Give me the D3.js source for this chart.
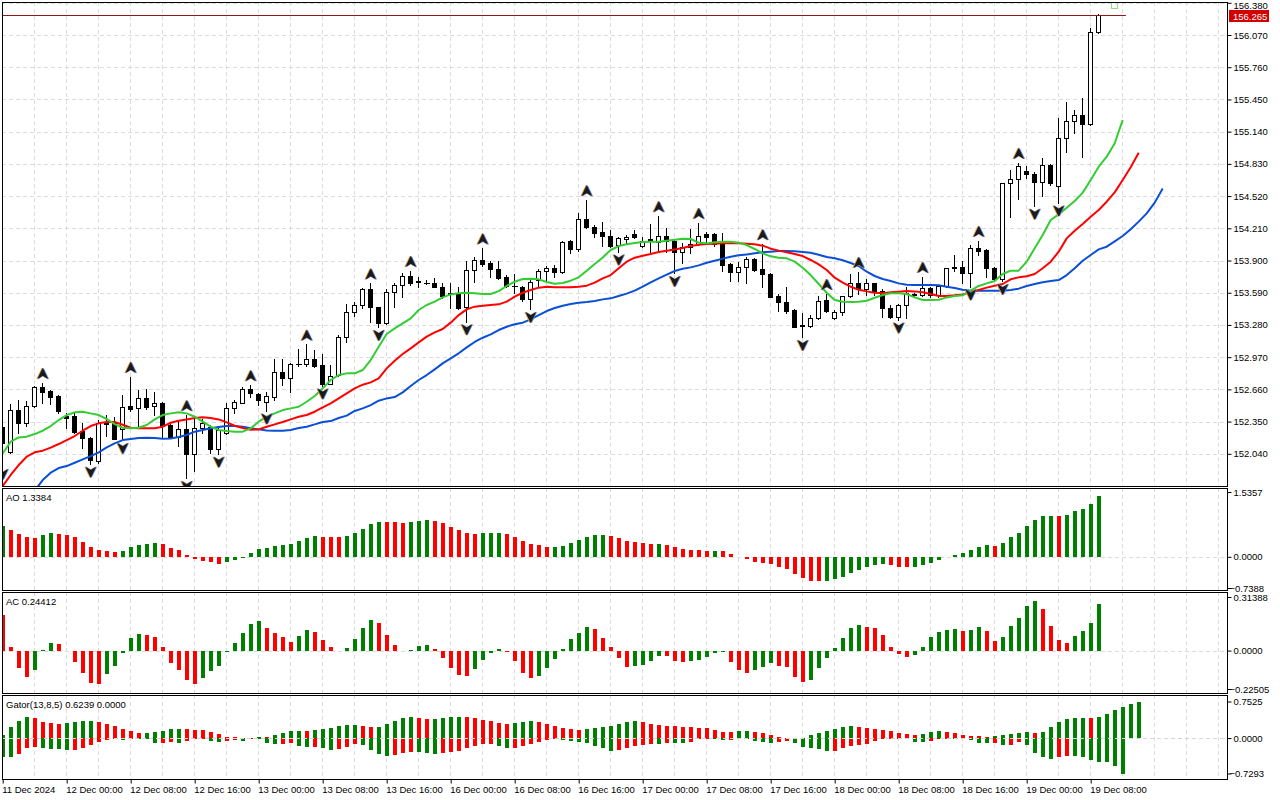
<!DOCTYPE html>
<html>
<head>
<meta charset="utf-8">
<script src="https://cdn.jsdelivr.net/npm/d3@7"></script>
<style>
  body { margin: 0; background: #fff; }
  svg { display: block; }
  text { font-family: "Liberation Sans", Arial, sans-serif; font-size: 9.5px; fill: #000; }
</style>
</head>
<body>
<svg id="chart" width="1280" height="800"></svg>
<script>
// ---- USDJPY H1, 11 Dec 16:00 .. 19 Dec 09:00 (one value per bar) ----
const open = [
  152.295, 152.060, 152.461, 152.339, 152.500, 152.683, 152.644, 152.599, 152.404, 152.407,
  152.263, 152.189, 151.974, 152.349, 152.349, 152.275, 152.500, 152.477, 152.577, 152.503,
  152.526, 152.320, 152.205, 152.275, 152.038, 152.285, 152.301, 152.083, 152.237, 152.484,
  152.532, 152.664, 152.615, 152.542, 152.590, 152.824, 152.766, 152.901, 152.901, 152.949,
  152.895, 152.712, 152.798, 153.161, 153.408, 153.472, 153.626, 153.450, 153.296, 153.594,
  153.664, 153.751, 153.700, 153.687, 153.681, 153.648, 153.587, 153.578, 153.450, 153.809,
  153.905, 153.873, 153.815, 153.738, 153.658, 153.648, 153.530, 153.713, 153.802, 153.825,
  153.793, 154.088, 154.011, 154.296, 154.226, 154.171, 154.139, 154.046, 154.107, 154.155,
  154.040, 154.107, 154.082, 154.136, 154.091, 153.985, 154.033, 154.056, 154.155, 154.155,
  154.065, 153.867, 153.793, 153.835, 153.915, 153.815, 153.767, 153.559, 153.504, 153.424,
  153.276, 153.273, 153.344, 153.520, 153.343, 153.407, 153.555, 153.687, 153.622, 153.680,
  153.610, 153.440, 153.359, 153.472, 153.574, 153.568, 153.632, 153.568, 153.655, 153.825,
  153.841, 153.776, 154.017, 154.001, 153.825, 153.719, 154.643, 154.681, 154.761, 154.732,
  154.659, 154.819, 154.617, 155.076, 155.246, 155.297, 155.210, 156.096
];
const high = [
  152.365, 152.519, 152.558, 152.551, 152.692, 152.724, 152.654, 152.606, 152.433, 152.445,
  152.333, 152.205, 152.365, 152.413, 152.397, 152.606, 152.782, 152.654, 152.660, 152.631,
  152.542, 152.333, 152.365, 152.413, 152.381, 152.372, 152.317, 152.285, 152.526, 152.558,
  152.686, 152.702, 152.628, 152.638, 152.949, 152.949, 152.917, 153.045, 153.093, 153.039,
  153.000, 152.895, 153.183, 153.482, 153.504, 153.632, 153.681, 153.456, 153.623, 153.687,
  153.777, 153.802, 153.745, 153.713, 153.729, 153.681, 153.687, 153.642, 153.899, 153.937,
  154.017, 153.895, 153.895, 153.761, 153.767, 153.655, 153.713, 153.815, 153.847, 153.857,
  154.088, 154.098, 154.361, 154.483, 154.242, 154.274, 154.194, 154.130, 154.146, 154.194,
  154.130, 154.252, 154.329, 154.210, 154.098, 154.065, 154.200, 154.264, 154.171, 154.168,
  154.168, 153.873, 153.889, 153.931, 153.928, 154.059, 153.777, 153.578, 153.648, 153.430,
  153.392, 153.376, 153.559, 153.580, 153.424, 153.562, 153.770, 153.792, 153.719, 153.687,
  153.622, 153.472, 153.481, 153.642, 153.590, 153.744, 153.648, 153.664, 153.831, 153.953,
  153.898, 154.049, 154.091, 154.008, 153.841, 154.649, 154.771, 154.841, 154.809, 154.755,
  154.883, 154.829, 155.268, 155.429, 155.348, 155.461, 156.134, 156.275
];
const low = [
  151.920, 152.044, 152.243, 152.311, 152.493, 152.532, 152.519, 152.436, 152.285, 152.237,
  152.092, 151.942, 151.955, 152.211, 152.180, 152.170, 152.455, 152.301, 152.468, 152.413,
  152.205, 152.189, 152.115, 151.804, 151.878, 152.237, 152.044, 152.038, 152.230, 152.436,
  152.526, 152.590, 152.506, 152.455, 152.558, 152.702, 152.638, 152.885, 152.885, 152.879,
  152.695, 152.712, 152.792, 153.119, 153.366, 153.440, 153.312, 153.257, 153.289, 153.456,
  153.552, 153.664, 153.648, 153.674, 153.642, 153.536, 153.446, 153.430, 153.312, 153.697,
  153.847, 153.738, 153.719, 153.642, 153.584, 153.514, 153.430, 153.642, 153.713, 153.745,
  153.777, 153.969, 153.995, 154.210, 154.123, 154.040, 154.033, 153.985, 154.065, 154.114,
  154.033, 153.985, 153.985, 153.985, 153.777, 153.873, 153.976, 154.049, 154.059, 154.040,
  153.802, 153.706, 153.706, 153.681, 153.802, 153.648, 153.546, 153.417, 153.398, 153.257,
  153.161, 153.263, 153.337, 153.408, 153.334, 153.375, 153.550, 153.578, 153.568, 153.568,
  153.353, 153.345, 153.330, 153.343, 153.545, 153.558, 153.552, 153.552, 153.648, 153.802,
  153.680, 153.648, 153.953, 153.744, 153.715, 153.700, 154.322, 154.489, 154.691, 154.424,
  154.521, 154.627, 154.457, 154.947, 155.130, 154.899, 155.204, 156.090
];
const close = [
  152.141, 152.461, 152.339, 152.500, 152.683, 152.638, 152.590, 152.455, 152.384, 152.253,
  152.189, 151.980, 152.333, 152.327, 152.182, 152.490, 152.474, 152.577, 152.493, 152.526,
  152.311, 152.198, 152.275, 152.038, 152.285, 152.333, 152.083, 152.269, 152.477, 152.535,
  152.664, 152.628, 152.558, 152.596, 152.824, 152.766, 152.904, 152.907, 152.949, 152.888,
  152.708, 152.792, 153.167, 153.408, 153.469, 153.626, 153.450, 153.296, 153.594, 153.661,
  153.754, 153.687, 153.693, 153.684, 153.648, 153.562, 153.581, 153.440, 153.809, 153.905,
  153.867, 153.815, 153.729, 153.655, 153.652, 153.527, 153.690, 153.799, 153.825, 153.793,
  154.075, 154.008, 154.296, 154.226, 154.168, 154.139, 154.043, 154.114, 154.130, 154.123,
  154.091, 154.091, 154.136, 154.091, 153.985, 154.033, 154.056, 154.136, 154.130, 154.059,
  153.857, 153.793, 153.835, 153.912, 153.809, 153.767, 153.552, 153.504, 153.417, 153.263,
  153.267, 153.344, 153.514, 153.417, 153.407, 153.555, 153.687, 153.622, 153.687, 153.610,
  153.440, 153.353, 153.472, 153.584, 153.568, 153.632, 153.568, 153.655, 153.825, 153.841,
  153.776, 154.017, 153.995, 153.825, 153.719, 154.643, 154.681, 154.809, 154.729, 154.659,
  154.819, 154.643, 155.076, 155.246, 155.297, 155.210, 156.096, 156.265
];

// fractal bars (index of the bar)
const upFractals = [5, 16, 23, 31, 38, 46, 51, 60, 73, 82, 87, 95, 103, 107, 115, 122, 127];
const downFractals = [0, 11, 15, 23, 27, 33, 40, 47, 58, 66, 77, 84, 100, 112, 121, 125, 129, 132];

// Alligator lines, already shifted (lips +3, teeth +5, jaw +8)
const lips = [
  152.044, 152.156, 152.198, 152.205, 152.230, 152.262, 152.307, 152.365, 152.413, 152.439,
  152.445, 152.429, 152.413, 152.375, 152.326, 152.291, 152.285, 152.291, 152.317, 152.371,
  152.413, 152.429, 152.439, 152.429, 152.397, 152.349, 152.301, 152.269, 152.259, 152.253,
  152.253, 152.285, 152.349, 152.397, 152.429, 152.461, 152.477, 152.493, 152.541, 152.596,
  152.670, 152.750, 152.798, 152.814, 152.814, 152.846, 152.942, 153.071, 153.193, 153.247,
  153.295, 153.343, 153.424, 153.472, 153.504, 153.545, 153.574, 153.584, 153.590, 153.584,
  153.578, 153.578, 153.606, 153.655, 153.696, 153.722, 153.725, 153.719, 153.693, 153.677,
  153.683, 153.706, 153.738, 153.802, 153.866, 153.930, 154.001, 154.039, 154.056, 154.068,
  154.078, 154.081, 154.081, 154.091, 154.100, 154.110, 154.107, 154.072, 154.065, 154.075,
  154.081, 154.081, 154.072, 154.049, 154.011, 153.969, 153.940, 153.927, 153.921, 153.889,
  153.831, 153.760, 153.674, 153.590, 153.520, 153.504, 153.501, 153.504, 153.513, 153.542,
  153.568, 153.584, 153.584, 153.578, 153.545, 153.520, 153.520, 153.523, 153.545, 153.558,
  153.565, 153.610, 153.655, 153.680, 153.703, 153.770, 153.802, 153.802, 153.889, 154.017,
  154.145, 154.290, 154.344, 154.408, 154.473, 154.553, 154.675, 154.803, 154.899, 155.028,
  155.252
];
const teeth = [
  151.730, 151.836, 151.932, 152.012, 152.054, 152.070, 152.099, 152.134, 152.172, 152.211,
  152.262, 152.307, 152.333, 152.346, 152.346, 152.320, 152.291, 152.285, 152.285, 152.285,
  152.301, 152.339, 152.358, 152.371, 152.384, 152.391, 152.384, 152.371, 152.342, 152.310,
  152.288, 152.272, 152.275, 152.301, 152.323, 152.346, 152.371, 152.397, 152.413, 152.445,
  152.487, 152.525, 152.573, 152.622, 152.670, 152.705, 152.727, 152.766, 152.862, 152.936,
  153.000, 153.055, 153.112, 153.167, 153.209, 153.241, 153.302, 153.375, 153.430, 153.456,
  153.465, 153.472, 153.478, 153.504, 153.552, 153.590, 153.616, 153.639, 153.648, 153.642,
  153.642, 153.642, 153.648, 153.658, 153.687, 153.728, 153.760, 153.825, 153.889, 153.927,
  153.946, 153.963, 153.982, 153.995, 154.007, 154.020, 154.039, 154.052, 154.059, 154.062,
  154.065, 154.065, 154.065, 154.062, 154.056, 154.043, 154.014, 153.995, 153.979, 153.963,
  153.943, 153.905, 153.863, 153.809, 153.735, 153.687, 153.648, 153.619, 153.603, 153.590,
  153.584, 153.594, 153.600, 153.606, 153.603, 153.594, 153.578, 153.558, 153.558, 153.565,
  153.574, 153.594, 153.616, 153.639, 153.658, 153.674, 153.719, 153.738, 153.748, 153.770,
  153.825, 153.889, 153.985, 154.113, 154.187, 154.251, 154.322, 154.386, 154.466, 154.556,
  154.675, 154.797, 154.938
];
const jawStart = 4;
const jaw = [
  151.685, 151.787, 151.858, 151.903, 151.922, 151.954, 151.986, 152.018, 152.054, 152.102,
  152.140, 152.172, 152.182, 152.192, 152.195, 152.192, 152.185, 152.188, 152.201, 152.221,
  152.253, 152.269, 152.285, 152.298, 152.307, 152.307, 152.301, 152.285, 152.275, 152.265,
  152.262, 152.262, 152.269, 152.288, 152.301, 152.323, 152.346, 152.355, 152.384, 152.407,
  152.452, 152.477, 152.509, 152.551, 152.573, 152.586, 152.631, 152.692, 152.750, 152.798,
  152.853, 152.910, 152.958, 153.007, 153.064, 153.116, 153.157, 153.189, 153.231, 153.263,
  153.286, 153.302, 153.334, 153.375, 153.414, 153.443, 153.465, 153.481, 153.494, 153.501,
  153.510, 153.526, 153.536, 153.558, 153.581, 153.610, 153.648, 153.690, 153.728, 153.764,
  153.799, 153.821, 153.834, 153.853, 153.879, 153.898, 153.918, 153.937, 153.950, 153.959,
  153.969, 153.979, 153.985, 153.991, 153.991, 153.988, 153.982, 153.975, 153.956, 153.934,
  153.921, 153.902, 153.876, 153.847, 153.792, 153.751, 153.722, 153.703, 153.680, 153.667,
  153.664, 153.664, 153.664, 153.661, 153.648, 153.635, 153.619, 153.610, 153.610, 153.610,
  153.610, 153.610, 153.616, 153.629, 153.655, 153.674, 153.690, 153.703, 153.712, 153.760,
  153.825, 153.898, 153.953, 154.007, 154.033, 154.084, 154.136, 154.200, 154.274, 154.354,
  154.457, 154.594
];

// Awesome Oscillator / Accelerator (value of the bar before the first one sets bar 0's colour)
const aoPrev = 0.70;
const ao = [
  0.727, 0.632, 0.537, 0.466, 0.442, 0.513, 0.561, 0.537, 0.513, 0.458,
  0.348, 0.221, 0.158, 0.134, 0.111, 0.134, 0.229, 0.276, 0.300, 0.324,
  0.300, 0.205, 0.158, 0.040, -0.047, -0.095, -0.126, -0.174, -0.118, -0.079,
  -0.024, 0.087, 0.182, 0.205, 0.253, 0.276, 0.308, 0.371, 0.442, 0.490,
  0.474, 0.466, 0.458, 0.490, 0.561, 0.656, 0.774, 0.821, 0.820, 0.819,
  0.798, 0.825, 0.840, 0.869, 0.845, 0.790, 0.703, 0.632, 0.553, 0.537,
  0.561, 0.563, 0.565, 0.537, 0.466, 0.371, 0.292, 0.276, 0.229, 0.232,
  0.253, 0.324, 0.395, 0.466, 0.513, 0.515, 0.490, 0.442, 0.371, 0.348,
  0.316, 0.300, 0.302, 0.276, 0.229, 0.182, 0.158, 0.156, 0.134, 0.137,
  0.132, 0.063, -0.010, -0.055, -0.118, -0.142, -0.166, -0.237, -0.284, -0.403,
  -0.498, -0.569, -0.571, -0.567, -0.521, -0.474, -0.379, -0.308, -0.237, -0.190,
  -0.166, -0.190, -0.237, -0.240, -0.235, -0.190, -0.142, -0.071, -0.010, 0.039,
  0.095, 0.166, 0.237, 0.284, 0.261, 0.332, 0.458, 0.569, 0.735, 0.877,
  0.972, 0.975, 0.970, 0.995, 1.090, 1.137, 1.256, 1.446
];
const acPrev = 0.25;
const ac = [
  0.209, 0.023, -0.100, -0.152, -0.113, 0.004, 0.047, 0.039, -0.004, -0.064,
  -0.133, -0.188, -0.193, -0.135, -0.088, -0.016, 0.076, 0.100, 0.094, 0.082,
  0.021, -0.070, -0.111, -0.170, -0.193, -0.158, -0.119, -0.088, -0.010, 0.045,
  0.104, 0.156, 0.174, 0.135, 0.104, 0.082, 0.051, 0.088, 0.121, 0.109,
  0.063, 0.023, -0.004, 0.014, 0.068, 0.135, 0.180, 0.162, 0.092, 0.033,
  -0.004, 0.004, 0.027, 0.033, 0.010, -0.041, -0.100, -0.143, -0.148, -0.105,
  -0.053, -0.016, 0.010, -0.006, -0.059, -0.129, -0.158, -0.148, -0.100, -0.047,
  0.010, 0.068, 0.105, 0.139, 0.127, 0.074, 0.021, -0.043, -0.094, -0.093,
  -0.082, -0.059, -0.029, -0.030, -0.061, -0.064, -0.063, -0.053, -0.037, -0.012,
  -0.006, -0.064, -0.113, -0.129, -0.111, -0.094, -0.072, -0.088, -0.098, -0.152,
  -0.186, -0.174, -0.104, -0.045, 0.018, 0.076, 0.133, 0.152, 0.141, 0.135,
  0.094, 0.023, -0.021, -0.039, -0.027, 0.023, 0.082, 0.111, 0.123, 0.129,
  0.117, 0.118, 0.141, 0.117, 0.059, 0.082, 0.146, 0.193, 0.264, 0.293,
  0.246, 0.146, 0.064, 0.047, 0.088, 0.117, 0.164, 0.270
];

// Gator oscillator: upper (shift 5) and lower (shift 3) histograms with their colours
const gatorUp = [
  0.062, 0.219, 0.343, 0.425, 0.405, 0.322, 0.302, 0.281, 0.302, 0.322,
  0.343, 0.350, 0.322, 0.281, 0.240, 0.178, 0.137, 0.096, 0.103, 0.117,
  0.137, 0.178, 0.185, 0.178, 0.171, 0.158, 0.117, 0.075, 0.021, 0.014,
  0.007, 0.007, 0.021, 0.014, 0.055, 0.096, 0.137, 0.144, 0.137, 0.158,
  0.178, 0.199, 0.240, 0.261, 0.267, 0.240, 0.219, 0.226, 0.281, 0.343,
  0.405, 0.425, 0.405, 0.384, 0.391, 0.405, 0.425, 0.432, 0.425, 0.405,
  0.364, 0.343, 0.302, 0.281, 0.302, 0.322, 0.343, 0.322, 0.281, 0.240,
  0.199, 0.178, 0.171, 0.178, 0.199, 0.219, 0.240, 0.281, 0.322, 0.343,
  0.322, 0.281, 0.261, 0.240, 0.240, 0.219, 0.219, 0.199, 0.199, 0.158,
  0.117, 0.117, 0.137, 0.137, 0.117, 0.096, 0.055, 0.014, 0.007, 0.007,
  0.000, 0.055, 0.096, 0.137, 0.178, 0.219, 0.240, 0.219, 0.199, 0.178,
  0.158, 0.137, 0.096, 0.075, 0.055, 0.075, 0.117, 0.137, 0.117, 0.096,
  0.055, 0.034, 0.034, 0.014, 0.034, 0.055, 0.075, 0.096, 0.117, 0.096,
  0.117, 0.219, 0.322, 0.384, 0.405, 0.405, 0.405, 0.425, 0.487, 0.569,
  0.631, 0.693, 0.7525
];
const gatorUpColor =
  "GGGGRRRRGG" + "GGRRRRRRGG" + "GGGRRRRRRR" + "GRGRGGGGRG" + "GGGGGRRGGG" +
  "GGRRGGGGRR" + "RRRRGGGRRR" + "RRRGGGGGGG" + "RRRRRRRRRR" + "RRGGRRRRRG" +
  "RGGGGGGRRR" + "RRRRRGGGRR" + "RRRRGGGGGR" + "GGGGGGRGGG" + "GGG";
const gatorLo = [
  -0.391, -0.398, -0.336, -0.206, -0.185, -0.206, -0.226, -0.226, -0.247, -0.247,
  -0.206, -0.144, -0.082, -0.041, -0.021, -0.041, -0.014, -0.021, -0.021, -0.103,
  -0.103, -0.082, -0.103, -0.062, -0.021, -0.014, -0.062, -0.082, -0.062, -0.041,
  -0.062, -0.014, -0.027, -0.103, -0.123, -0.123, -0.103, -0.165, -0.185, -0.185,
  -0.206, -0.247, -0.226, -0.185, -0.123, -0.144, -0.247, -0.329, -0.370, -0.350,
  -0.309, -0.288, -0.288, -0.309, -0.329, -0.309, -0.288, -0.267, -0.206, -0.165,
  -0.123, -0.123, -0.165, -0.206, -0.206, -0.165, -0.123, -0.082, -0.041, -0.021,
  -0.041, -0.062, -0.082, -0.103, -0.165, -0.206, -0.267, -0.247, -0.206, -0.165,
  -0.144, -0.123, -0.123, -0.103, -0.103, -0.103, -0.082, -0.021, -0.014, -0.021,
  -0.041, -0.041, -0.021, -0.014, -0.062, -0.082, -0.103, -0.082, -0.062, -0.103,
  -0.185, -0.206, -0.226, -0.267, -0.267, -0.206, -0.165, -0.144, -0.123, -0.062,
  -0.021, -0.014, -0.014, -0.021, -0.082, -0.082, -0.062, -0.021, -0.014, -0.021,
  -0.021, -0.041, -0.103, -0.103, -0.103, -0.144, -0.144, -0.082, -0.144, -0.309,
  -0.391, -0.432, -0.391, -0.370, -0.370, -0.391, -0.453, -0.494, -0.494, -0.583,
  -0.7293
];
const gatorLoColor =
  "GGRRRGGGGR" + "RRRRRGRGGG" + "RRGRRRGGRR" + "GRGGGRRGGR" + "GGRRRGGGGR" +
  "RRGGGRRRRR" + "RRGGRRRRRR" + "GGGGGGGRRR" + "RRGRGGRRRG" + "GRRRGGGRRG" +
  "GGGGRRRRRR" + "RRRGGGRRRG" + "GGGGRGRRGG" + "GGRRGGGGGG" + "G";

// axes
const priceTicks = [156.380, 156.070, 155.760, 155.450, 155.140, 154.830, 154.520, 154.210,
                    153.900, 153.590, 153.280, 152.970, 152.660, 152.350, 152.040];
const timeIdx = [0, 8, 16, 24, 32, 40, 48, 56, 64, 72, 80, 88, 96, 104, 112, 120, 128, 136];
const timeLabels = ["11 Dec 2024", "12 Dec 00:00", "12 Dec 08:00", "12 Dec 16:00", "13 Dec 00:00",
  "13 Dec 08:00", "13 Dec 16:00", "16 Dec 00:00", "16 Dec 08:00", "16 Dec 16:00", "17 Dec 00:00",
  "17 Dec 08:00", "17 Dec 16:00", "18 Dec 00:00", "18 Dec 08:00", "18 Dec 16:00", "19 Dec 00:00",
  "19 Dec 08:00"];
const aoRange = [-0.7388, 1.5357];
const acRange = [-0.22505, 0.31388];
const gatorRange = [-0.7293, 0.7525];
const markerBar = 139, markerPrice = 156.36;

// ---- layout ----
const GREEN = "#008000", RED = "#ff0000";
const plotL = 2, plotR = 1227;
const pMain = [2, 486], pAO = [488, 590], pAC = [592, 693], pGator = [695, 779];

const svg = d3.select("#chart");
svg.append("rect").attr("width", 1280).attr("height", 800).attr("fill", "#fff");

const x = d3.scaleLinear().domain([0, 1]).range([2.7, 10.7]);
const y = d3.scaleLinear().domain([152.04, 156.38]).range([453.8, 2.8]);
const yAO = d3.scaleLinear().domain(aoRange).range([588, 492]);
const yAC = d3.scaleLinear().domain(acRange).range([689, 597]);
const yG = d3.scaleLinear().domain(gatorRange).range([773.5, 701.5]);

const defs = svg.append("defs");
function clip(id, p) {
  defs.append("clipPath").attr("id", id).append("rect")
    .attr("x", plotL).attr("y", p[0]).attr("width", plotR - plotL).attr("height", p[1] - p[0]);
}
clip("cMain", pMain); clip("cAO", pAO); clip("cAC", pAC); clip("cG", pGator);

const lastBar = 152;
const gridIdx = d3.range(0, lastBar + 1, 4);

function vGrid(g, p) {
  g.selectAll(null).data(gridIdx).join("line")
    .attr("x1", d => Math.floor(x(d)) + 0.5).attr("x2", d => Math.floor(x(d)) + 0.5)
    .attr("y1", p[0]).attr("y2", p[1])
    .attr("stroke", "#dcdcdc").attr("stroke-dasharray", "4,3");
}
function hLine(g, yy, color) {
  g.append("line").attr("x1", plotL).attr("x2", plotR)
    .attr("y1", Math.round(yy) + 0.5).attr("y2", Math.round(yy) + 0.5)
    .attr("stroke", color || "#dcdcdc").attr("stroke-dasharray", "4,3");
}

// ---- main price panel ----
const gMain = svg.append("g").attr("clip-path", "url(#cMain)");
vGrid(gMain, pMain);
priceTicks.forEach(p => hLine(gMain, y(p)));

const cx = i => Math.floor(x(i)) + 0.5;
const candles = gMain.append("g").attr("shape-rendering", "crispEdges");
close.forEach((c, i) => {
  const o = open[i];
  candles.append("line")
    .attr("x1", cx(i)).attr("x2", cx(i))
    .attr("y1", Math.round(y(high[i]))).attr("y2", Math.round(y(low[i])) + 1)
    .attr("stroke", "#000");
  const top = Math.round(y(Math.max(o, c))), bot = Math.round(y(Math.min(o, c)));
  if (bot - top < 1) {
    candles.append("line").attr("x1", cx(i) - 2.5).attr("x2", cx(i) + 3.5)
      .attr("y1", top + 0.5).attr("y2", top + 0.5).attr("stroke", "#000");
  } else {
    candles.append("rect")
      .attr("x", cx(i) - 2).attr("y", top + 0.5)
      .attr("width", 4).attr("height", bot - top)
      .attr("fill", c > o ? "#fff" : "#000").attr("stroke", "#000");
  }
});

// alligator
function drawLine(data, start, color) {
  gMain.append("path")
    .datum(data)
    .attr("fill", "none").attr("stroke", color).attr("stroke-width", 2)
    .attr("stroke-linejoin", "round")
    .attr("d", d3.line().x((d, i) => x(i + start)).y(d => y(d)));
}
drawLine(jaw, jawStart, "#0a4fd6");
drawLine(teeth, 0, "#ff0000");
drawLine(lips, 0, "#33cc33");

// fractals
const upShape = "M0,-6 L5.5,5.5 L0,2 L-5.5,5.5 Z";
const dnShape = "M0,6 L5.5,-5.5 L0,-2 L-5.5,-5.5 Z";
function fractal(i, shape, yy) {
  const g = gMain.append("g").attr("transform", `translate(${x(i)},${yy})`);
  g.append("path").attr("d", shape).attr("fill", "#e39a3c").attr("transform", "translate(-1,0)");
  g.append("path").attr("d", shape).attr("fill", "#4f86e8").attr("transform", "translate(1,0)");
  g.append("path").attr("d", shape).attr("fill", "#1a1a1a");
}
upFractals.forEach(i => fractal(i, upShape, y(high[i]) - 9));
downFractals.forEach(i => fractal(i, dnShape, y(low[i]) + 8));

// current price line and marker
const lastClose = close[close.length - 1];
svg.append("line")
  .attr("x1", plotL).attr("x2", x(140.4))
  .attr("y1", Math.round(y(lastClose)) + 0.5).attr("y2", Math.round(y(lastClose)) + 0.5)
  .attr("stroke", "#8b1a1a");
svg.append("rect")
  .attr("x", Math.floor(x(markerBar)) - 3 + 0.5).attr("y", Math.round(y(markerPrice)) - 3 + 0.5)
  .attr("width", 6).attr("height", 6)
  .attr("fill", "none").attr("stroke", "#8fdc8f");

// ---- indicator panels ----
function histogram(g, vals, scale, colorOf) {
  g.append("g").attr("shape-rendering", "crispEdges")
    .selectAll("rect").data(vals).join("rect")
    .attr("x", (d, i) => Math.floor(x(i)) - 1)
    .attr("width", 4)
    .attr("y", d => Math.min(scale(d), scale(0)))
    .attr("height", d => Math.abs(scale(d) - scale(0)))
    .attr("fill", colorOf);
}

const gAO = svg.append("g").attr("clip-path", "url(#cAO)");
vGrid(gAO, pAO);
hLine(gAO, yAO(0));
histogram(gAO, ao, yAO, (d, i) => d > (i ? ao[i - 1] : aoPrev) ? GREEN : RED);

const gAC = svg.append("g").attr("clip-path", "url(#cAC)");
vGrid(gAC, pAC);
hLine(gAC, yAC(0));
histogram(gAC, ac, yAC, (d, i) => d > (i ? ac[i - 1] : acPrev) ? GREEN : RED);

const gG = svg.append("g").attr("clip-path", "url(#cG)");
vGrid(gG, pGator);
histogram(gG, gatorUp, yG, (d, i) => gatorUpColor[i] === "G" ? GREEN : RED);
histogram(gG, gatorLo, yG, (d, i) => gatorLoColor[i] === "G" ? GREEN : RED);
hLine(gG, yG(0), "#d6d6d6");

// indicator titles
svg.append("text").attr("x", 6).attr("y", 500.5).text("AO 1.3384");
svg.append("text").attr("x", 6).attr("y", 605).text("AC 0.24412");
svg.append("text").attr("x", 6).attr("y", 707.5).text("Gator(13,8,5) 0.6239 0.0000");

// panel borders
[pMain, pAO, pAC, pGator].forEach(p => {
  svg.append("rect").attr("x", plotL + 0.5).attr("y", p[0] + 0.5)
    .attr("width", plotR - plotL).attr("height", p[1] - p[0])
    .attr("fill", "none").attr("stroke", "#000").attr("shape-rendering", "crispEdges");
});

// ---- axes ----
function rightAxis(scale, ticks, fmt) {
  const g = svg.append("g").attr("transform", `translate(${plotR + 0.5},0)`)
    .call(d3.axisRight(scale).tickValues(ticks).tickSize(4).tickPadding(2).tickFormat(fmt));
  g.select(".domain").remove();
  g.selectAll("text").attr("font-family", "Liberation Sans, Arial, sans-serif").attr("font-size", 9.5)
    .attr("x", d => d < 0 ? 2 : 6);
  return g;
}
const priceAxis = rightAxis(y, priceTicks, d3.format(".3f"));
// keep the top label inside the picture
priceAxis.selectAll("text").filter(d => d === priceTicks[0]).attr("y", 3);
rightAxis(yAO, [aoRange[1], 0, aoRange[0]], d3.format(".4f"));
rightAxis(yAC, [acRange[1], 0, acRange[0]], d => d === 0 ? "0.0000" : d3.format(".5f")(d));
rightAxis(yG, [gatorRange[1], 0, gatorRange[0]], d3.format(".4f"));

// last price tag
const tagY = Math.round(y(lastClose));
svg.append("rect").attr("x", 1229).attr("y", tagY - 5).attr("width", 40).attr("height", 12).attr("fill", "#d40000");
svg.append("text").attr("x", 1233).attr("y", tagY + 4.5).style("fill", "#fff")
  .text(d3.format(".3f")(lastClose));

// time axis
const xa = svg.append("g").attr("transform", `translate(0,${pGator[1] + 0.5})`)
  .call(d3.axisBottom(x).tickValues(timeIdx).tickSize(4).tickPadding(3)
    .tickFormat((d, i) => timeLabels[i]));
xa.select(".domain").remove();
xa.selectAll("text").attr("text-anchor", "start").attr("x", -1)
  .attr("font-family", "Liberation Sans, Arial, sans-serif").attr("font-size", 9.5);
</script>
</body>
</html>
